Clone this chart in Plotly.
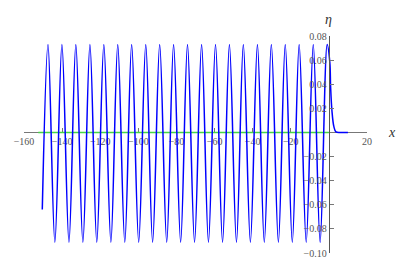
import plotly.graph_objects as go

# Wave extrema (x positions and eta values)
start_x = [-150.4]
start_y = [-0.064]
peak_x = [-147.4, -140.1, -132.8, -125.4, -118.1, -110.8, -103.5, -96.1, -88.8, -81.5,
          -74.2, -66.8, -59.5, -52.2, -44.9, -37.5, -30.2, -22.9, -15.6, -8.2, -0.9]
peak_y = [0.073] * 21
trough_x = [-143.8, -136.4, -129.1, -121.8, -114.4, -107.1, -99.8, -92.5, -85.1, -77.8,
            -70.5, -63.2, -55.8, -48.5, -41.2, -33.9, -26.5, -19.2, -11.9, -4.6]
trough_y = [-0.091] * 20
tail_x = [0.5, 0.9, 1.6, 2.6, 3.7, 6.0, 10.0]
tail_y = [0.058, 0.038, 0.018, 0.005, 0.0005, 0.0, 0.0]

green_x = [-152.5, 0.0]
green_y = [0.0, 0.0]

x_ticks = [-160, -140, -120, -100, -80, -60, -40, -20, 20]
y_ticks = [-0.10, -0.08, -0.06, -0.04, -0.02, 0.02, 0.04, 0.06, 0.08]

# Build wave: start, then alternate peak/trough
wave_x = list(start_x)
wave_y = list(start_y)
for i in range(len(peak_x)):
    wave_x.append(peak_x[i]); wave_y.append(peak_y[i])
    if i < len(trough_x):
        wave_x.append(trough_x[i]); wave_y.append(trough_y[i])
wave_x += tail_x
wave_y += tail_y

fig = go.Figure()
fig.add_trace(go.Scatter(x=green_x, y=green_y, mode="lines",
                         line=dict(color="rgb(70,215,70)", width=1.5),
                         hoverinfo="skip", showlegend=False))
fig.add_trace(go.Scatter(x=wave_x, y=wave_y, mode="lines",
                         line=dict(color="#0000ff", width=1.5, shape="spline", smoothing=1.0),
                         showlegend=False))

def fmt_x(v):
    return ("\u2212" + str(abs(v))) if v < 0 else str(v)

def fmt_y(v):
    s = "%.2f" % abs(v)
    return ("\u2212" + s) if v < 0 else s

font = dict(family="Liberation Serif, DejaVu Serif, serif", size=10, color="#555555")
lab_font = dict(family="Liberation Serif, DejaVu Serif, serif", size=14, color="#333333")

# page body has an 8px default margin; compensate in figure size/margins
fig.update_layout(
    width=399, height=263,
    margin=dict(l=16, r=40, t=28, b=18, autoexpand=False),
    paper_bgcolor="white", plot_bgcolor="white",
    showlegend=False,
    xaxis=dict(range=[-160, 20], showgrid=False, zeroline=False, automargin=False,
               showline=True, linecolor="#777777", linewidth=1,
               anchor="free", position=0.1 / 0.18, layer="below traces",
               ticks="inside", ticklen=4, tickcolor="#777777",
               tickvals=x_ticks, ticktext=[fmt_x(v) for v in x_ticks],
               tickfont=font),
    yaxis=dict(range=[-0.10, 0.08], showgrid=False, zeroline=False, automargin=False,
               showline=True, linecolor="#555555", linewidth=1.3,
               anchor="free", position=160 / 180,
               ticks="inside", ticklen=4, tickcolor="#777777",
               tickvals=y_ticks, ticktext=[fmt_y(v) for v in y_ticks],
               tickfont=font),
    annotations=[
        dict(x=1.073, y=0.553, xref="paper", yref="paper", text="<i>x</i>", showarrow=False,
             xanchor="center", yanchor="middle", font=lab_font),
        dict(x=0.889, y=1.074, xref="paper", yref="paper", text="<i>η</i>", showarrow=False,
             xanchor="center", yanchor="middle", font=lab_font),
    ],
)

fig.write_html("out.html")
